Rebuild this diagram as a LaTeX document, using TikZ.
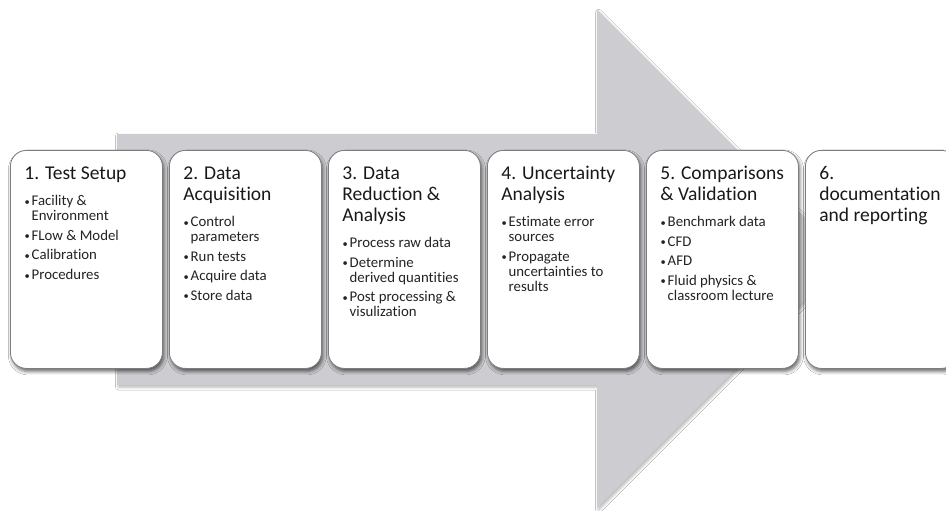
\documentclass[tikz,border=0pt]{standalone}
\usepackage{fontspec}
\setmainfont{Carlito}[Ligatures=NoCommon]
\usetikzlibrary{shadows.blur}

\definecolor{arrowgray}{RGB}{205,205,209}
\definecolor{edgegray}{RGB}{125,125,125}
\definecolor{headink}{RGB}{25,25,25}
\definecolor{itemink}{RGB}{35,35,35}

% step heading: first line sits 29pt below the top of the box
\newcommand\stephead[1]{{\fontsize{19.5}{21}\selectfont\color{headink}\rule{0pt}{29pt}#1\par}\vspace{11.5pt}}
% bullet item with hanging indent
\newcommand\bitem[1]{{\fontsize{14.8}{15}\selectfont\color{itemink}\hangindent=7.3pt\hangafter=1\noindent
  \makebox[7.3pt][l]{\hspace{0.3pt}\raisebox{0.4pt}{\fontsize{10.5}{10}\selectfont\textbullet}}#1\par}\vspace{4.5pt}}
% box content: fixed-size top-aligned column
\newcommand\stepbody[1]{\parbox[t][218pt][t]{124pt}{\raggedright #1}}

\tikzset{
  stepbox/.style={draw=edgegray, line width=0.8pt, fill=white, rounded corners=16pt,
    inner sep=0pt, minimum width=152pt, minimum height=218pt, anchor=north west,
    blur shadow={shadow xshift=1.5pt, shadow yshift=-3pt, shadow blur radius=3.5pt, shadow opacity=60}},
  bigarrow/.style={fill=arrowgray, draw=none,
    blur shadow={shadow xshift=1.5pt, shadow yshift=-2pt, shadow blur radius=3pt, shadow opacity=30}}
}

\begin{document}
\begin{tikzpicture}[x=1pt,y=-1pt]
  \useasboundingbox (0,0) rectangle (946,511);
  \clip (0,0) rectangle (946,511);
  \fill[white] (0,0) rectangle (946,511);

  % large process arrow in the background
  \path[bigarrow] (117,134) -- (597,134) -- (597,10) -- (846,259) -- (597,508)
    -- (597,385) -- (117,385) -- cycle;

  % process steps
  \node[stepbox] (s1) at (10,150) {\stepbody{%
    \stephead{\mbox{1. Test Setup}}%
    \bitem{\mbox{Facility \&}\newline\mbox{Environment}}%
    \bitem{\mbox{FLow \& Model}}%
    \bitem{\mbox{Calibration}}%
    \bitem{\mbox{Procedures}}}};

  \node[stepbox] (s2) at (169,150) {\stepbody{%
    \stephead{\mbox{2. Data}\newline\mbox{Acquisition}}%
    \bitem{\mbox{Control}\newline\mbox{parameters}}%
    \bitem{\mbox{Run tests}}%
    \bitem{\mbox{Acquire data}}%
    \bitem{\mbox{Store data}}}};

  \node[stepbox] (s3) at (328,150) {\stepbody{%
    \stephead{\mbox{3. Data}\newline\mbox{Reduction \&}\newline\mbox{Analysis}}%
    \bitem{\mbox{Process raw data}}%
    \bitem{\mbox{Determine}\newline\mbox{derived quantities}}%
    \bitem{\mbox{Post processing \&}\newline\mbox{visulization}}}};

  \node[stepbox] (s4) at (487,150) {\stepbody{%
    \stephead{\mbox{4. Uncertainty}\newline\mbox{Analysis}}%
    \bitem{\mbox{Estimate error}\newline\mbox{sources}}%
    \bitem{\mbox{Propagate}\newline\mbox{uncertainties to}\newline\mbox{results}}}};

  \node[stepbox] (s5) at (646,150) {\stepbody{%
    \stephead{\mbox{5. Comparisons}\newline\mbox{\& Validation}}%
    \bitem{\mbox{Benchmark data}}%
    \bitem{\mbox{CFD}}%
    \bitem{\mbox{AFD}}%
    \bitem{\mbox{Fluid physics \&}\newline\mbox{classroom lecture}}}};

  \node[stepbox] (s6) at (805,150) {\stepbody{%
    \stephead{\mbox{6.}\newline\mbox{documentation}\newline\mbox{and reporting}}}};
\end{tikzpicture}
\end{document}
